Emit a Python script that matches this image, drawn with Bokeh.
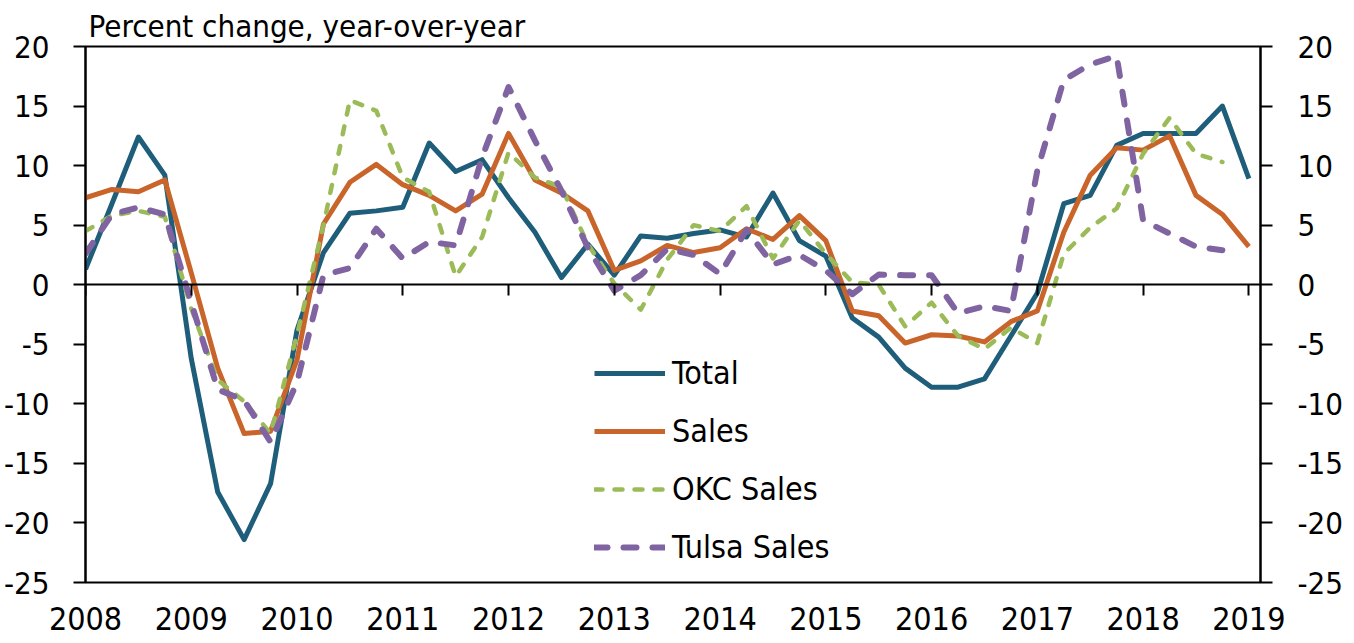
from bokeh.plotting import figure
from bokeh.models import LinearAxis, Range1d, FixedTicker, Legend, LegendItem
from bokeh.embed import file_html
from bokeh.resources import INLINE

FONT = "DejaVu Sans Condensed"

# quarterly observations, 2008Q1 .. 2019Q1
start_year = 2008
n_quarters = 45
quarters = [start_year + q / 4 for q in range(n_quarters)]

total = [1.3, 6.8, 12.4, 9.2, -6.2, -17.4, -21.4, -16.7, -3.8, 2.7, 6.0, 6.2,
         6.5, 11.9, 9.5, 10.5, 7.3, 4.4, 0.6, 3.4, 0.8, 4.1, 3.9, 4.3,
         4.6, 4.0, 7.7, 3.7, 2.4, -2.8, -4.4, -7.0, -8.6, -8.6, -7.9, -4.3,
         -0.7, 6.8, 7.5, 11.7, 12.7, 12.7, 12.7, 15.0, 8.9]
sales = [7.3, 8.0, 7.8, 8.8, 1.0, -7.0, -12.5, -12.3, -6.3, 5.1, 8.6, 10.1,
         8.4, 7.5, 6.2, 7.6, 12.7, 8.8, 7.7, 6.2, 1.2, 2.0, 3.3, 2.7,
         3.1, 4.7, 3.8, 5.8, 3.7, -2.2, -2.6, -4.9, -4.2, -4.3, -4.8, -3.1,
         -2.2, 4.4, 9.2, 11.5, 11.3, 12.5, 7.5, 5.9, 3.2]
okc_sales = [4.5, 5.8, 6.2, 5.7, -2.0, -8.0, -9.8, -12.5, -4.2, 5.0, 15.5, 14.6,
             9.0, 7.8, 0.7, 4.0, 11.1, 9.0, 8.2, 3.4, 0.1, -2.1, 2.1, 5.0,
             4.5, 6.6, 2.2, 5.4, 2.6, 0.2, 0.0, -3.5, -1.5, -4.3, -5.4, -3.6,
             -4.9, 2.6, 4.8, 6.4, 11.0, 14.0, 11.0, 10.3]
tulsa_sales = [2.6, 5.9, 6.5, 5.9, -1.5, -8.8, -9.7, -13.2, -8.2, 0.8, 1.4, 4.7,
               2.2, 3.6, 3.3, 10.7, 16.6, 12.1, 7.9, 3.1, -0.5, 0.8, 3.0, 2.5,
               0.9, 4.6, 1.7, 2.5, 1.2, -0.8, 0.85, 0.8, 0.8, -2.4, -1.8, -2.2,
               9.6, 17.2, 18.5, 19.2, 5.4, 4.3, 3.2, 2.9]

series_names = ["Total", "Sales", "OKC Sales", "Tulsa Sales"]
year_ticks = list(range(2008, 2020))
y_ticks = [-25, -20, -15, -10, -5, 0, 5, 10, 15, 20]
y_tick_labels = {t: str(t) for t in y_ticks}
title_text = "Percent change, year-over-year"

TEAL = "#1F5E7A"
ORANGE = "#C9652B"
GREEN = "#9BBB59"
PURPLE = "#8064A2"

p = figure(width=1346, height=643,
           x_range=Range1d(2008, 2019.11), y_range=Range1d(-25, 20),
           output_backend="svg", toolbar_location=None,
           x_axis_location=None, y_axis_location=None)
p.min_border_left = 85
p.min_border_right = 79
p.min_border_top = 46
p.min_border_bottom = 61
p.outline_line_color = "black"
p.outline_line_width = 2
p.outline_line_alpha = 1
p.background_fill_color = "white"
p.border_fill_color = "white"
p.grid.visible = False

p.title.text = title_text
p.title.align = "left"
p.title.offset = 3
p.title.standoff = 6
p.title.text_font = FONT
p.title.text_font_size = "31px"
p.title.text_font_style = "normal"
p.title.text_color = "black"

def yaxis(standoff):
    return LinearAxis(ticker=FixedTicker(ticks=y_ticks),
                      major_label_overrides=y_tick_labels,
                      major_tick_out=12, major_tick_in=0,
                      minor_tick_line_color=None,
                      axis_line_width=2, axis_line_color="black",
                      major_tick_line_width=2, major_tick_line_color="black",
                      major_label_standoff=standoff,
                      major_label_text_font=FONT,
                      major_label_text_font_size="31px",
                      major_label_text_color="black")

p.add_layout(yaxis(24), "left")
p.add_layout(yaxis(25), "right")

# ticks on the zero line
xt = LinearAxis(ticker=FixedTicker(ticks=year_ticks), fixed_location=0,
                major_tick_in=11, major_tick_out=0,
                axis_line_width=2, axis_line_color="black",
                major_tick_line_width=2, major_tick_line_color="black",
                minor_tick_line_color=None,
                major_label_text_font_size="0px", major_label_standoff=0,
                major_label_text_alpha=0)
p.add_layout(xt, "above")

# year labels along the bottom
xb = LinearAxis(ticker=FixedTicker(ticks=year_ticks),
                axis_line_color=None, major_tick_line_color=None,
                minor_tick_line_color=None, major_tick_out=0, major_tick_in=0,
                major_label_standoff=24,
                major_label_text_font=FONT,
                major_label_text_font_size="32px",
                major_label_text_color="black")
p.add_layout(xb, "below")

r1 = p.line(quarters, total, line_color=TEAL, line_width=5, line_join="round")
r2 = p.line(quarters, sales, line_color=ORANGE, line_width=5, line_join="round")
r3 = p.line(quarters[:len(okc_sales)], okc_sales, line_color=GREEN, line_width=4.5,
            line_dash="8 12", line_cap="round", line_join="round")
r4 = p.line(quarters[:len(tulsa_sales)], tulsa_sales, line_color=PURPLE, line_width=6,
            line_dash="13 16", line_cap="round", line_join="round")

legend = Legend(items=[LegendItem(label=n, renderers=[r]) for n, r in
                       zip(series_names, [r1, r2, r3, r4])],
                location=(509, 15), padding=0, margin=0, spacing=18,
                glyph_width=71, glyph_height=40, label_height=40,
                label_standoff=7, label_text_font=FONT,
                label_text_font_size="32px", label_text_color="black",
                background_fill_alpha=0, border_line_color=None)
p.add_layout(legend)

open("out.html", "w").write(file_html(p, INLINE))
